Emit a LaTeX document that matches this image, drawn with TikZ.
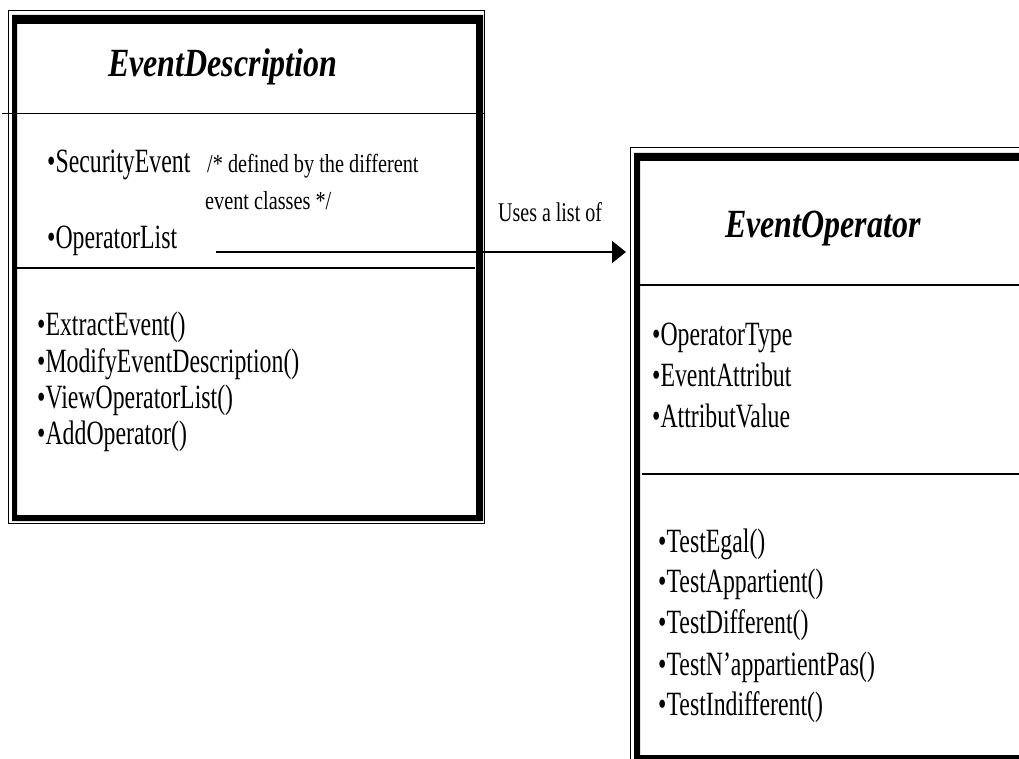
\documentclass[tikz,border=0pt]{standalone}
\usepackage{fontspec}
\setmainfont{Liberation Serif}
\newfontfamily\bodyfont[FakeStretch=0.7]{Liberation Serif}
\newfontfamily\titlefont[FakeStretch=0.8]{Liberation Serif}
\newfontfamily\notefont[FakeStretch=0.78]{Liberation Serif}
\newfontfamily\labelfont[FakeStretch=0.74]{Liberation Serif}
\usetikzlibrary{arrows.meta}

\tikzset{
  classtitle/.style={anchor=base west, inner sep=0pt,
    font=\titlefont\bfseries\itshape\fontsize{40}{44}\selectfont},
  member/.style={anchor=base west, inner sep=0pt,
    font=\bodyfont\fontsize{34}{40}\selectfont},
  note/.style={anchor=base west, inner sep=0pt,
    font=\notefont\fontsize{26}{30}\selectfont},
  rolelabel/.style={anchor=base west, inner sep=0pt,
    font=\labelfont\fontsize{27}{32}\selectfont},
  thinframe/.style={draw, line width=1pt},
  divider/.style={draw, line width=1.8pt},
  uses/.style={draw, line width=1.5pt, -{Triangle[length=14pt,width=22pt]}},
  classbox/.style={draw=none, inner sep=0pt, anchor=north west}
}

\begin{document}
\begin{tikzpicture}[x=1pt, y=-1pt]
  \useasboundingbox (0,0) rectangle (1019,759);
  \clip (0,0) rectangle (1019,759);

  % class areas
  \node[classbox, minimum width=476pt, minimum height=513pt] (ed) at (8,10) {};
  \node[classbox, minimum width=420pt, minimum height=640pt] (eo) at (630,148) {};

  % EventDescription frame: thin outer rule and heavy inner border
  \draw[thinframe] (8,10.5) rectangle (484,523);
  \fill[even odd rule] (12,15) rectangle (483,521) (17,24) rectangle (476,515);
  \draw[divider] (2,113.5) -- (485,113.5);
  \draw[divider] (17,268) -- (475,268);

  % EventOperator frame
  \draw[thinframe] (630,148) rectangle (1060,800);
  \fill[even odd rule] (634,153) rectangle (1055,790) (640,161) rectangle (1045,755);
  \draw[divider] (637,285) -- (1030,285);
  \draw[divider] (642,474) -- (1030,474);

  % EventDescription contents
  \node[classtitle] (edt) at (108,77) {EventDescription};
  \node[member] (se) at (47,173) {•SecurityEvent};
  \node[note] (n1) at (207,173) {/* defined by the different};
  \node[note] (n2) at (205,210) {event classes */};
  \node[member] (ol) at (47,248) {•OperatorList};
  \node[member] (m1) at (37,335) {•ExtractEvent()};
  \node[member] (m2) at (37,372) {•ModifyEventDescription()};
  \node[member] (m3) at (37,408) {•ViewOperatorList()};
  \node[member] (m4) at (37,444) {•AddOperator()};

  % EventOperator contents
  \node[classtitle] (eot) at (725,238) {EventOperator};
  \node[member] (a1) at (652,345) {•OperatorType};
  \node[member] (a2) at (652,386) {•EventAttribut};
  \node[member] (a3) at (652,427) {•AttributValue};
  \node[member] (o1) at (658,552) {•TestEgal()};
  \node[member] (o2) at (658,592) {•TestAppartient()};
  \node[member] (o3) at (658,633) {•TestDifferent()};
  \node[member] (o4) at (658,675) {•TestN’appartientPas()};
  \node[member] (o5) at (658,715) {•TestIndifferent()};

  % association
  \coordinate (olend) at (216,252);
  \draw[uses, shorten >=4pt] (olend) -- (olend -| eo.west);
  \node[rolelabel] (ul) at (498,222) {Uses a list of};
\end{tikzpicture}
\end{document}
